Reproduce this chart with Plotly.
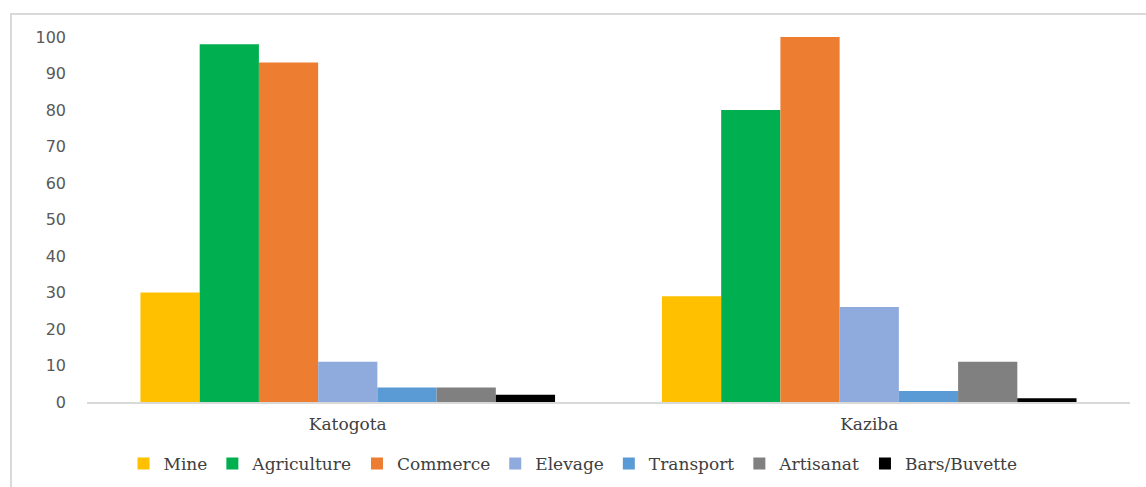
import plotly.graph_objects as go

sites = ["Katogota", "Kaziba"]
activities = ["Mine", "Agriculture", "Commerce", "Elevage", "Transport", "Artisanat", "Bars/Buvette"]
mine = [30, 29]
agriculture = [98, 80]
commerce = [93, 100]
elevage = [11, 26]
transport = [4, 3]
artisanat = [4, 11]
bars_buvette = [2, 1]

series = [mine, agriculture, commerce, elevage, transport, artisanat, bars_buvette]
colors = ["#FFC000", "#00B050", "#ED7D31", "#8FAADC", "#5B9BD5", "#808080", "#000000"]

W, H = 1146, 487
L, R, T, B = 87, 16, 37, 85
SERIF = "DejaVu Serif, Liberation Serif, serif"

fig = go.Figure()
for name, vals, col in zip(activities, series, colors):
    fig.add_trace(go.Bar(x=sites, y=vals, name=name, marker=dict(color=col, line=dict(width=0))))

pw = W - L - R
ph = H - T - B
# outer chart border
fig.add_shape(type="rect", xref="paper", yref="paper",
              x0=(11 - L) / pw, x1=(W + 20 - L) / pw,
              y0=-(B + 20) / ph, y1=(ph + T - 14) / ph,
              line=dict(color="#D9D9D9", width=2), fillcolor="rgba(0,0,0,0)", layer="below")

fig.update_layout(
    width=W, height=H,
    margin=dict(l=L, r=R, t=T, b=B, autoexpand=False),
    paper_bgcolor="white", plot_bgcolor="white",
    barmode="group", bargap=0.205, bargroupgap=0,
    showlegend=True,
    legend=dict(orientation="h", x=0.5, xanchor="center", xref="container",
                y=(H - 464) / H, yanchor="middle", yref="container",
                font=dict(family=SERIF, size=17, color="#404040"),
                itemwidth=30, traceorder="normal"),
    xaxis=dict(showline=True, linecolor="#D9D9D9", linewidth=2, ticks="", showgrid=False,
               automargin=False, ticklabelstandoff=6,
               tickfont=dict(family=SERIF, size=17, color="#404040")),
    yaxis=dict(range=[0, 100], dtick=10, showgrid=False, zeroline=False, showline=False,
               ticks="", ticklabelstandoff=20, automargin=False,
               tickfont=dict(family="DejaVu Sans", size=16, color="#595959")),
)

fig.write_html("out.html")
